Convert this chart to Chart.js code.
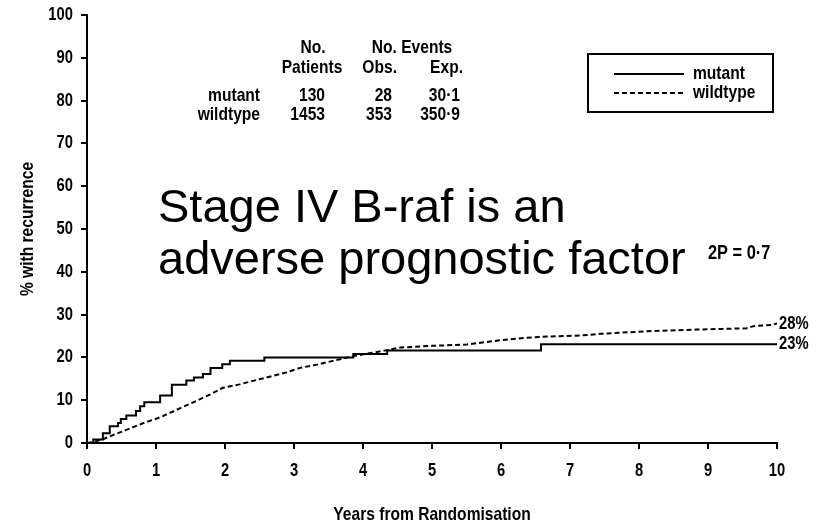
<!DOCTYPE html>
<html>
<head>
<meta charset="utf-8">
<script src="https://cdn.jsdelivr.net/npm/chart.js@4.4.1/dist/chart.umd.min.js"></script>
<style>
  html, body { margin: 0; padding: 0; background: #fff; }
  #wrap { width: 823px; height: 524px; }
</style>
</head>
<body>
<div id="wrap"><canvas id="km"></canvas></div>
<script>
// series (years, % with recurrence)
const mutantYears = [0, 0.09, 0.23, 0.33, 0.45, 0.49, 0.57, 0.71, 0.77, 0.83, 1.06, 1.23, 1.44, 1.55, 1.68, 1.79, 1.96, 2.07, 2.57, 3.86, 4.35, 6.58, 10];
const mutantPct = [0, 0.8, 2.3, 3.9, 4.7, 5.6, 6.4, 7.5, 8.6, 9.5, 11.1, 13.6, 14.6, 15.3, 16.1, 17.5, 18.4, 19.2, 20.0, 20.8, 21.6, 23.1, 23.1];
const wildYears = [0, 0.09, 0.25, 0.4, 0.56, 0.81, 1.06, 1.25, 1.54, 1.78, 1.97, 2.21, 2.5, 2.89, 3.1, 3.3, 3.86, 4.35, 4.54, 5.0, 5.5, 5.99, 6.37, 6.71, 7.14, 7.43, 8.11, 8.83, 9.56, 9.66, 9.92, 10];
const wildPct = [0, 0.2, 1.0, 2.0, 3.0, 4.6, 6.0, 7.4, 9.5, 11.3, 12.9, 13.7, 14.9, 16.5, 17.6, 18.2, 20.3, 21.7, 22.3, 22.7, 23.0, 24.0, 24.6, 24.9, 25.1, 25.5, 26.1, 26.5, 26.8, 27.3, 27.6, 27.9];
const seriesNames = ['mutant', 'wildtype'];
const endLabels = ['23%', '28%'];
const xTitle = 'Years from Randomisation';
const yTitle = '% with recurrence';

// table in the top of the plot
const tableRows = ['mutant', 'wildtype'];
const tablePatients = ['130', '1453'];
const tableObs = ['28', '353'];
const tableExp = ['30·1', '350·9'];
const pValue = '2P = 0·7';
const headline = ['Stage IV B-raf is an', 'adverse prognostic factor'];

// no narrow face installed, so squeeze Liberation Sans Bold
const BOLD = 'bold {s}px "Liberation Sans", Arial, sans-serif';
const SQUEEZE = 0.82;

function toPoints(xs, ys) {
    return xs.map((x, i) => ({ x: x, y: ys[i] }));
}

function narrow(ctx, text, x, y, align, size, rot) {
    ctx.save();
    ctx.font = BOLD.replace('{s}', size);
    ctx.translate(x, y);
    if (rot) ctx.rotate(rot);
    ctx.scale(SQUEEZE, 1);
    ctx.textAlign = align;
    ctx.textBaseline = 'middle';
    ctx.fillText(text, 0, 0);
    ctx.restore();
}

const annotations = {
    id: 'annotations',
    afterDraw(chart) {
        const ctx = chart.ctx;
        const xs = chart.scales.x, ys = chart.scales.y;
        const area = chart.chartArea;
        ctx.save();
        ctx.fillStyle = '#000';
        ctx.strokeStyle = '#000';

        // axis labels from the library's ticks
        xs.ticks.forEach(t => narrow(ctx, String(t.value), xs.getPixelForValue(t.value), area.bottom + 28, 'center', 18));
        ys.ticks.forEach(t => narrow(ctx, String(t.value), area.left - 14, ys.getPixelForValue(t.value), 'right', 18));
        narrow(ctx, xTitle, (area.left + area.right) / 2, 515, 'center', 19);
        narrow(ctx, yTitle, 28, (area.top + area.bottom) / 2, 'center', 19, -Math.PI / 2);

        // numbers table
        narrow(ctx, 'No.', 313, 48, 'center', 19);
        narrow(ctx, 'Patients', 312, 68, 'center', 19);
        narrow(ctx, 'No. Events', 412, 48, 'center', 19);
        narrow(ctx, 'Obs.', 397, 68, 'right', 19);
        narrow(ctx, 'Exp.', 463, 68, 'right', 19);
        tableRows.forEach((name, i) => {
            const y = 96 + i * 19;
            narrow(ctx, name, 260, y, 'right', 19);
            narrow(ctx, tablePatients[i], 325, y, 'right', 19);
            narrow(ctx, tableObs[i], 392, y, 'right', 19);
            narrow(ctx, tableExp[i], 460, y, 'right', 19);
        });

        // legend box
        ctx.lineWidth = 2;
        ctx.strokeRect(588, 54, 185, 58);
        chart.data.datasets.forEach((ds, i) => {
            const y = 74 + i * 19;
            ctx.setLineDash(ds.borderDash || []);
            ctx.beginPath();
            ctx.moveTo(614, y);
            ctx.lineTo(684, y);
            ctx.stroke();
            ctx.setLineDash([]);
            narrow(ctx, ds.label, 693, y, 'left', 19);
        });

        // headline
        ctx.font = '47px "Liberation Sans", Arial, sans-serif';
        ctx.textAlign = 'left';
        ctx.textBaseline = 'alphabetic';
        ctx.fillText(headline[0], 158, 222);
        ctx.fillText(headline[1], 158, 274);

        narrow(ctx, pValue, 708, 253, 'left', 20);

        // end of curve labels
        chart.data.datasets.forEach((ds, i) => {
            const last = ds.data[ds.data.length - 1];
            narrow(ctx, endLabels[i], xs.getPixelForValue(last.x) + 2, ys.getPixelForValue(last.y), 'left', 18);
        });
        ctx.restore();
    }
};

new Chart(document.getElementById('km'), {
    type: 'line',
    data: {
        datasets: [{
            label: seriesNames[0],
            data: toPoints(mutantYears, mutantPct),
            borderColor: '#000',
            borderWidth: 2,
            stepped: 'before',
            pointRadius: 0
        }, {
            label: seriesNames[1],
            data: toPoints(wildYears, wildPct),
            borderColor: '#000',
            borderWidth: 2,
            borderDash: [5, 3],
            pointRadius: 0
        }]
    },
    options: {
        responsive: true,
        maintainAspectRatio: false,
        animation: false,
        layout: { padding: { left: 18, right: 46, top: 15, bottom: 0 } },
        plugins: { legend: { display: false }, tooltip: { enabled: false } },
        scales: {
            x: {
                type: 'linear',
                min: 0,
                max: 10,
                afterFit: s => { s.height = 81; },
                ticks: { stepSize: 1, display: false },
                grid: { drawOnChartArea: false, tickLength: 6, color: '#000', lineWidth: 2 },
                border: { color: '#000', width: 2 }
            },
            y: {
                min: 0,
                max: 100,
                afterFit: s => { s.width = 69; },
                ticks: { stepSize: 10, display: false },
                grid: { drawOnChartArea: false, tickLength: 6, color: '#000', lineWidth: 2 },
                border: { color: '#000', width: 2 }
            }
        }
    },
    plugins: [annotations]
});
</script>
</body>
</html>
